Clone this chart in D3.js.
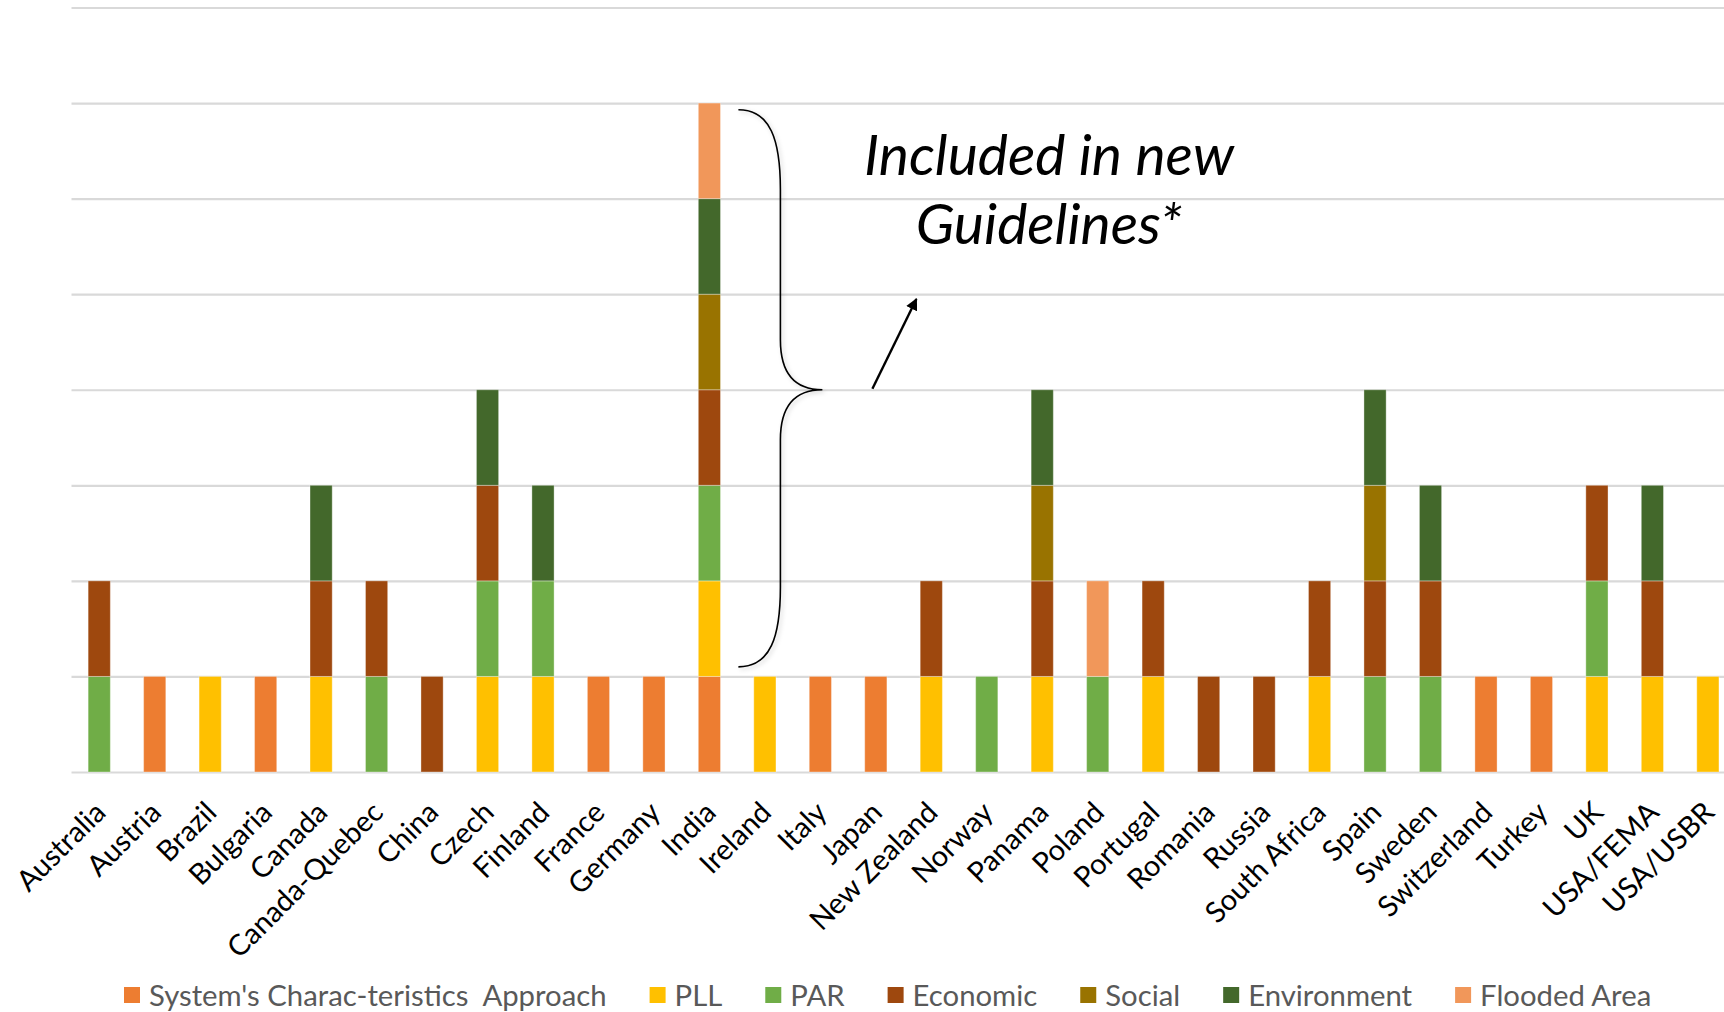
<!DOCTYPE html>
<html>
<head>
<meta charset="utf-8">
<script src="https://cdn.jsdelivr.net/npm/d3@7"></script>
<style>
  html, body { margin: 0; padding: 0; background: #fff; }
  svg { display: block; }
</style>
</head>
<body>
<svg id="chart" width="1724" height="1012"></svg>
<script>
// Countries along the x axis
const countries = ["Australia", "Austria", "Brazil", "Bulgaria", "Canada", "Canada-Quebec", "China",
  "Czech", "Finland", "France", "Germany", "India", "Ireland", "Italy", "Japan", "New Zealand",
  "Norway", "Panama", "Poland", "Portugal", "Romania", "Russia", "South Africa", "Spain", "Sweden",
  "Switzerland", "Turkey", "UK", "USA/FEMA", "USA/USBR"];

// Criteria used by each country (1 = used), stacked bottom to top in this order
const seriesNames = ["System's Charac-teristics  Approach", "PLL", "PAR", "Economic", "Social", "Environment", "Flooded Area"];
const systemApproach = [0,1,0,1,0,0,0,0,0,1,1,1,0,1,1,0,0,0,0,0,0,0,0,0,0,1,1,0,0,0];
const pll            = [0,0,1,0,1,0,0,1,1,0,0,1,1,0,0,1,0,1,0,1,0,0,1,0,0,0,0,1,1,1];
const par            = [1,0,0,0,0,1,0,1,1,0,0,1,0,0,0,0,1,0,1,0,0,0,0,1,1,0,0,1,0,0];
const economic       = [1,0,0,0,1,1,1,1,0,0,0,1,0,0,0,1,0,1,0,1,1,1,1,1,1,0,0,1,1,0];
const social         = [0,0,0,0,0,0,0,0,0,0,0,1,0,0,0,0,0,1,0,0,0,0,0,1,0,0,0,0,0,0];
const environment    = [0,0,0,0,1,0,0,1,1,0,0,1,0,0,0,0,0,1,0,0,0,0,0,1,1,0,0,0,1,0];
const floodedArea    = [0,0,0,0,0,0,0,0,0,0,0,1,0,0,0,0,0,0,1,0,0,0,0,0,0,0,0,0,0,0];
const seriesValues = [systemApproach, pll, par, economic, social, environment, floodedArea];
const seriesColors = ["#ED7D31", "#FFC000", "#70AD47", "#9E480E", "#997300", "#43682B", "#F1975A"];

// Y axis range (count of criteria)
const yMax = 8;

// Annotation text
const noteLines = ["Included in new", "Guidelines*"];
const notedCountry = "India";

const rows = countries.map((c, i) => {
  const r = { country: c };
  seriesNames.forEach((s, k) => { r[s] = seriesValues[k][i]; });
  return r;
});

const svg = d3.select("#chart");
const plotLeft = 71.5, plotRight = 1735.6, baseY = 772, topY = 7.5;

const x = d3.scaleBand().domain(countries).range([plotLeft, plotRight])
  .paddingInner(0.6).paddingOuter(0.3);
const y = d3.scaleLinear().domain([0, yMax]).range([baseY, topY]);
const color = d3.scaleOrdinal().domain(seriesNames).range(seriesColors);

// Horizontal gridlines
const grid = svg.append("g").attr("transform", `translate(${plotLeft},0)`)
  .call(d3.axisLeft(y).ticks(yMax).tickSize(-(1724 - plotLeft)).tickFormat(""));
grid.select(".domain").remove();
grid.selectAll(".tick line").attr("stroke", "#d9d9d9").attr("stroke-width", 2.2);

// Stacked bars
const stacked = d3.stack().keys(seriesNames)(rows);
svg.append("g").selectAll("g").data(stacked).join("g")
  .attr("fill", d => color(d.key))
  .selectAll("rect").data(d => d.filter(p => p[1] > p[0])).join("rect")
  .attr("x", d => x(d.data.country))
  .attr("width", x.bandwidth())
  .attr("y", d => y(d[1]))
  .attr("height", d => y(d[0]) - y(d[1]))
  .attr("stroke", "#ffffff").attr("stroke-opacity", 0.35).attr("stroke-width", 1);

// Country labels, rotated
const xAxis = svg.append("g").attr("transform", `translate(0,${baseY})`)
  .call(d3.axisBottom(x).tickSize(0));
xAxis.select(".domain").remove();
xAxis.selectAll(".tick text")
  .attr("x", 0).attr("y", 0).attr("dy", "0.35em")
  .attr("transform", "translate(1,35) rotate(-45)")
  .attr("text-anchor", "end")
  .attr("fill", "#000")
  .style("font-family", "Lato, 'Open Sans', sans-serif")
  .style("font-size", "29px");

// Curly brace beside the noted country
const defs = svg.append("defs");
const shadow = defs.append("filter").attr("id", "soft").attr("x", "-50%").attr("y", "-10%")
  .attr("width", "200%").attr("height", "120%");
shadow.append("feDropShadow").attr("dx", 2).attr("dy", 2).attr("stdDeviation", 2)
  .attr("flood-color", "#000").attr("flood-opacity", 0.18);
defs.append("marker").attr("id", "head").attr("viewBox", "0 0 10 10")
  .attr("refX", 9).attr("refY", 5).attr("markerWidth", 5).attr("markerHeight", 5)
  .attr("orient", "auto")
  .append("path").attr("d", "M0,0 L10,5 L0,10 z").attr("fill", "#000");

const cx = x(notedCountry) + x.bandwidth() / 2;
const bTop = y(6.93), bMid = y(4), bBot = y(1.1);
const ex = cx + 29, vx = cx + 71, tx = cx + 113;
const brace = d3.path();
brace.moveTo(ex, bTop);
brace.bezierCurveTo(vx - 10, bTop, vx, bTop + 30, vx, bTop + 80);
brace.lineTo(vx, bMid - 50);
brace.bezierCurveTo(vx, bMid - 15, vx + 15, bMid, tx, bMid);
brace.bezierCurveTo(vx + 15, bMid, vx, bMid + 15, vx, bMid + 50);
brace.lineTo(vx, bBot - 80);
brace.bezierCurveTo(vx, bBot - 30, vx - 10, bBot, ex, bBot);
svg.append("path").attr("d", brace.toString())
  .attr("fill", "none").attr("stroke", "#000").attr("stroke-width", 1.6)
  .attr("filter", "url(#soft)");

// Arrow pointing to the note
svg.append("line")
  .attr("x1", tx + 50).attr("y1", bMid - 1)
  .attr("x2", tx + 94).attr("y2", y(4.95))
  .attr("stroke", "#000").attr("stroke-width", 2.4)
  .attr("marker-end", "url(#head)");

// Note text
const note = svg.append("text")
  .attr("text-anchor", "middle")
  .style("font-family", "Lato, 'Open Sans', sans-serif")
  .style("font-style", "italic")
  .style("font-size", "57px")
  .attr("fill", "#000");
noteLines.forEach((t, i) => {
  note.append("tspan").attr("x", 1049).attr("y", 175 + i * 69).text(t);
});

// Legend along the bottom
const legend = svg.append("g").attr("transform", "translate(124,0)");
let lx = 0;
seriesNames.forEach((s, i) => {
  const g = legend.append("g").attr("transform", `translate(${lx},0)`);
  g.append("rect").attr("x", 0).attr("y", 987).attr("width", 16).attr("height", 16)
    .attr("fill", color(s));
  const t = g.append("text").attr("x", 25).attr("y", 1006)
    .attr("fill", "#595959")
    .style("font-family", "Lato, 'Open Sans', sans-serif")
    .style("font-size", "29.3px")
    .style("white-space", "pre")
    .text(s);
  lx += 25 + t.node().getComputedTextLength() + 43;
});
</script>
</body>
</html>
